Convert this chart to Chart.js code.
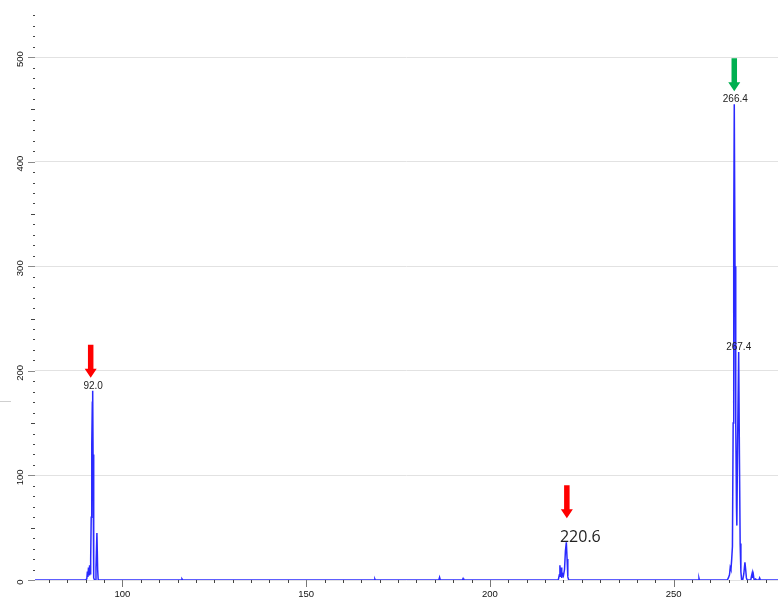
<!DOCTYPE html>
<html>
<head>
<meta charset="utf-8">
<script src="https://cdn.jsdelivr.net/npm/chart.js@4"></script>
<style>
html, body { margin: 0; padding: 0; background: #fff; }
#wrap { width: 778px; height: 600px; }
</style>
</head>
<body>
<div id="wrap"><canvas id="chart" width="778" height="600"></canvas></div>
<script>
// spectrum (x = m/z, y = intensity)
const specX = [
    76.2, 116.0, 116.2, 116.4, 168.6, 168.7, 168.8,
    89.9, 90.3, 90.45, 90.6, 90.75, 90.9, 91.05, 91.2, 91.35, 91.5, 91.65, 91.8, 91.9, 92.0, 92.1, 92.25, 92.4, 92.6, 92.8, 93.05, 93.25, 93.4,
    186.1, 186.3, 186.5, 192.5, 192.7, 192.9,
    218.6, 218.9, 219.05, 219.2, 219.4, 219.55, 219.75, 220.0, 220.3, 220.55, 220.8, 221.0, 221.2, 221.45,
    256.8, 256.9, 257.0,
    264.6, 264.9, 265.2, 265.4, 265.6, 265.8, 266.0, 266.2, 266.35, 266.5, 266.7, 266.9, 267.1, 267.2, 267.4, 267.7,
    267.9, 268.1, 268.3, 268.5, 268.8, 269.1, 269.4, 269.6, 269.8, 270.0, 271.0, 271.2, 271.4, 271.55, 271.7, 271.9,
    272.3, 272.6, 273.2, 273.4, 273.6, 278.4
];
const specY = [
    0, 0, 1, 0, 0, 0.8, 0,
    0, 1, 8, 3, 12, 5, 14, 6, 20, 60, 130, 170, 181, 120, 40, 2, 0, 0, 12, 45, 10, 0,
    0, 2.5, 0, 0, 1.5, 0,
    0, 5, 14, 3, 12, 2, 6, 4, 10, 28, 36, 20, 3, 0,
    0, 1.5, 0,
    0, 2, 5, 12, 10, 20, 32, 150, 330, 455, 300, 150, 70, 52, 130, 218,
    120, 35, 8, 0, 0, 6, 17, 10, 2, 0, 0, 4, 7, 2, 5, 0,
    1, 0, 0, 2, 0, 0
];

const xTickLabels = [100, 150, 200, 250];
const yTickLabels = [0, 100, 200, 300, 400, 500];

// labelled peaks
const peakLabels = ['92.0', '220.6', '266.4', '267.4'];
const peakAt = [91.9, 220.8, 266.5, 267.7];
const peakHeight = [181, 36, 455, 218];

const X_MIN = 76.2, X_MAX = 278.4, Y_MAX = 545;

// look of each peak note
const peakStyle = [
    { arrow: '#ff0000', font: '10px "Liberation Sans", Arial, sans-serif', dx: 0.5, dy: -4.5, arrowDx: -2 },
    { arrow: '#ff0000', font: '16px "Open Sans", sans-serif', dx: 14, dy: -5, arrowDx: 0.5, big: true },
    { arrow: '#00b050', font: '10px "Liberation Sans", Arial, sans-serif', dx: 1, dy: -4.5, arrowDx: 0 },
    { arrow: null, font: '10px "Liberation Sans", Arial, sans-serif', dx: 0, dy: -4.5 }
];

const points = specX.map((x, i) => ({ x, y: specY[i] })).sort((a, b) => a.x - b.x);

function drawArrow(ctx, cx, tipY, color) {
    const len = 33, shaft = 5.5, head = 12, headH = 9;
    ctx.fillStyle = color;
    ctx.beginPath();
    ctx.moveTo(cx - shaft / 2, tipY - len);
    ctx.lineTo(cx + shaft / 2, tipY - len);
    ctx.lineTo(cx + shaft / 2, tipY - headH);
    ctx.lineTo(cx + head / 2, tipY - headH);
    ctx.lineTo(cx, tipY);
    ctx.lineTo(cx - head / 2, tipY - headH);
    ctx.lineTo(cx - shaft / 2, tipY - headH);
    ctx.closePath();
    ctx.fill();
}

const axisDecor = {
    id: 'axisDecor',
    afterDraw(chart) {
        const ctx = chart.ctx;
        const xs = chart.scales.x, ys = chart.scales.y, area = chart.chartArea;
        ctx.save();
        ctx.lineWidth = 1;

        // y ticks
        for (let v = 0; v <= Y_MAX; v += 10) {
            const y = Math.round(ys.getPixelForValue(v)) + 0.5;
            const major = v % 100 === 0;
            const len = major ? 7 : v % 50 === 0 ? 4 : 2;
            ctx.strokeStyle = major ? '#8a8a8a' : '#444';
            ctx.beginPath();
            ctx.moveTo(area.left - len, y);
            ctx.lineTo(area.left, y);
            ctx.stroke();
        }
        // x ticks
        for (let v = 80; v <= X_MAX; v += 5) {
            const x = Math.round(xs.getPixelForValue(v)) + 0.5;
            const major = v % 50 === 0;
            ctx.strokeStyle = major ? '#777' : '#444';
            ctx.beginPath();
            ctx.moveTo(x, area.bottom);
            ctx.lineTo(x, area.bottom + (major ? 7 : 3));
            ctx.stroke();
        }

        ctx.fillStyle = '#111';
        ctx.font = '9.5px "Liberation Sans", Arial, sans-serif';
        ctx.textAlign = 'center';
        ctx.textBaseline = 'middle';
        xTickLabels.forEach(v => {
            ctx.fillText(String(v), xs.getPixelForValue(v), area.bottom + 14.5);
        });
        yTickLabels.forEach(v => {
            ctx.save();
            ctx.translate(20.5, ys.getPixelForValue(v) + 2);
            ctx.rotate(-Math.PI / 2);
            ctx.fillText(String(v), 0, 0);
            ctx.restore();
        });

        // stray mark at the left edge
        ctx.strokeStyle = '#cfcfcf';
        ctx.beginPath();
        ctx.moveTo(0, 401.5);
        ctx.lineTo(11, 401.5);
        ctx.stroke();
        ctx.restore();
    },
    afterDatasetsDraw(chart) {
        const ctx = chart.ctx;
        const xs = chart.scales.x, ys = chart.scales.y;
        ctx.save();
        peakLabels.forEach((txt, i) => {
            const st = peakStyle[i];
            const px = xs.getPixelForValue(peakAt[i]);
            const py = ys.getPixelForValue(peakHeight[i]);
            ctx.fillStyle = '#222';
            ctx.font = st.font;
            ctx.textAlign = 'center';
            ctx.textBaseline = 'middle';
            ctx.fillText(txt, px + st.dx, py + st.dy);
            if (st.arrow) {
                drawArrow(ctx, px + st.arrowDx, py - (st.big ? 24 : 13), st.arrow);
            }
        });
        ctx.restore();
    }
};

new Chart(document.getElementById('chart'), {
    type: 'line',
    data: {
        datasets: [{
            data: points,
            borderColor: '#2a2aff',
            borderWidth: 1.5,
            pointRadius: 0,
            tension: 0,
            fill: false
        }]
    },
    options: {
        responsive: false,
        animation: false,
        layout: { padding: { top: 10, left: 0, right: 0, bottom: 0 } },
        plugins: {
            legend: { display: false },
            tooltip: { enabled: false }
        },
        scales: {
            x: {
                type: 'linear',
                min: X_MIN,
                max: X_MAX,
                border: { display: false },
                ticks: { display: false, stepSize: 50 },
                grid: {
                    drawTicks: false,
                    color: c => c.tick && c.tick.value % 50 === 0 ? '#e2e2e2' : 'rgba(0,0,0,0)'
                },
                afterFit: s => { s.height = 20; }
            },
            y: {
                min: 0,
                max: Y_MAX,
                border: { display: false },
                ticks: { display: false, stepSize: 100 },
                grid: {
                    drawTicks: false,
                    color: c => c.tick && c.tick.value % 100 === 0 ? '#e2e2e2' : 'rgba(0,0,0,0)'
                },
                afterFit: s => { s.width = 35; }
            }
        }
    },
    plugins: [axisDecor]
});
</script>
</body>
</html>
